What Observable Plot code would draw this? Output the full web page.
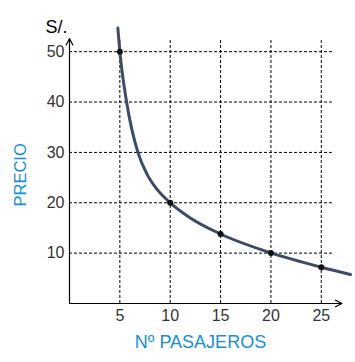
<!DOCTYPE html>
<html>
<head>
<meta charset="utf-8">
<script src="https://cdn.jsdelivr.net/npm/d3@7"></script>
<script src="https://cdn.jsdelivr.net/npm/@observablehq/plot@0.6"></script>
<style>
  html, body { margin: 0; padding: 0; background: #fff; }
  svg { display: block; }
</style>
</head>
<body>
<div id="chart"></div>
<script>
// Curve
const curveX = [4.8, 5, 5.67, 6.79, 7.72, 8.72, 10, 12, 15, 20, 25, 27.9];
const curveY = [54.7, 50, 40, 30, 25.6, 22.6, 20, 17, 13.8, 10.05, 7.2, 5.75];
// Marked points
const pointX = [5, 10, 15, 20, 25];
const pointY = [50, 20, 13.8, 10.05, 7.2];
// Ticks
const xTicks = [5, 10, 15, 20, 25];
const yTicks = [10, 20, 30, 40, 50];
const yLabel = "PRECIO";
const xLabel = "Nº PASAJEROS";
const unitLabel = "S/.";

const curve = curveX.map((x, i) => ({x, y: curveY[i]}));
const points = pointX.map((x, i) => ({x, y: pointY[i]}));
const blue = "#1a8ed2";

const chart = Plot.plot({
  width: 355,
  height: 362,
  marginLeft: 69,
  marginRight: 4,
  marginTop: 26,
  marginBottom: 59,
  style: {fontFamily: "'Liberation Sans', Arial, sans-serif", background: "#fff"},
  x: {domain: [0, 28]},
  y: {domain: [0, 55]},
  marks: [
    Plot.ruleX(xTicks, {x: d => d, y1: 0, y2: 52.2, stroke: "#000", strokeWidth: 1, strokeDasharray: "3,2"}),
    Plot.ruleY(yTicks, {y: d => d, x1: 0, x2: 26.1, stroke: "#000", strokeWidth: 1, strokeDasharray: "3,2"}),
    Plot.arrow([{x1: 0, y1: 0, x2: 27.05, y2: 0}], {x1: "x1", y1: "y1", x2: "x2", y2: "y2", stroke: "#000", strokeWidth: 1.2, headLength: 9, headAngle: 55, bend: 0}),
    Plot.arrow([{x1: 0, y1: 0, x2: 0, y2: 52.6}], {x1: "x1", y1: "y1", x2: "x2", y2: "y2", stroke: "#000", strokeWidth: 1.2, headLength: 9, headAngle: 55, bend: 0}),
    Plot.axisX({ticks: xTicks, tickSize: 0, tickPadding: 6, fontSize: 16, fill: "#333", label: null}),
    Plot.axisY({ticks: yTicks, tickSize: 0, tickPadding: 5, fontSize: 16, fill: "#333", label: null}),
    Plot.line(curve, {x: "x", y: "y", curve: "monotone-x", stroke: "#3e4a68", strokeWidth: 3}),
    Plot.dot(points, {x: "x", y: "y", r: 3, fill: "#111", stroke: "none"}),
    Plot.text([unitLabel], {text: d => d, frameAnchor: "top-left", textAnchor: "start", dx: -24, dy: -6, fontSize: 18, fill: "#000"}),
    Plot.text([yLabel], {text: d => d, frameAnchor: "left", rotate: -90, dx: -49, dy: 41.5, fontSize: 16.5, fill: blue}),
    Plot.text([xLabel], {text: d => d, frameAnchor: "bottom", dx: -10, dy: 44, fontSize: 18, fill: blue})
  ]
});
document.getElementById("chart").appendChild(chart);
</script>
</body>
</html>
